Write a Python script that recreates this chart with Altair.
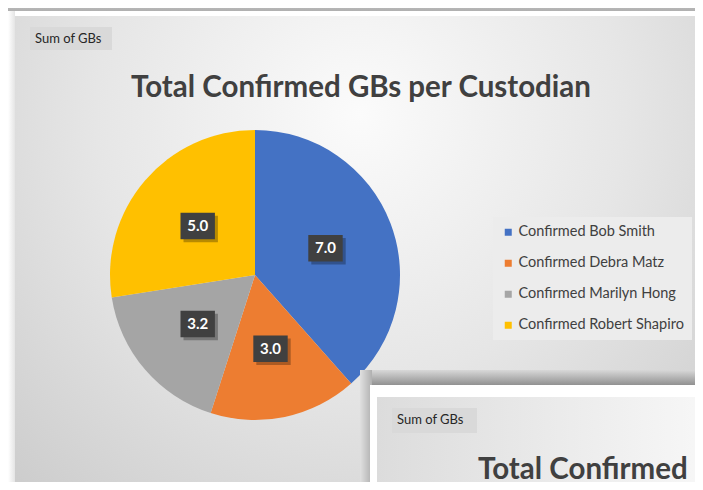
import math
import altair as alt
import pandas as pd

# ---- data ----
names = ["Confirmed Bob Smith", "Confirmed Debra Matz", "Confirmed Marilyn Hong", "Confirmed Robert Shapiro"]
values = [7.0, 3.0, 3.2, 5.0]
colors = ["#4472C4", "#ED7D31", "#A5A5A5", "#FFC000"]
title_text = "Total Confirmed GBs per Custodian"
field_button = "Sum of GBs"

df = pd.DataFrame({"name": names, "value": values})
total = sum(values)
cum = 0.0
lx, ly = [], []
for v in values:
    mid = (cum + v / 2) / total * 2 * math.pi
    cum += v
    lx.append(math.sin(mid) * 0.52)
    ly.append(-math.cos(mid) * 0.52)
df["lx"] = lx
df["ly"] = ly

one = pd.DataFrame({"a": [0]})
FONT = "Lato"

# pie geometry (chart coordinates = page - 8)
CX, CY, R = 247, 267, 145
W = 687


def rect(x, x2, y, y2, **kw):
    return alt.Chart(one).mark_rect(**kw).encode(
        x=alt.value(x), x2=alt.value(x2), y=alt.value(y), y2=alt.value(y2)
    )


def grad_linear(c1, c2, vertical=True):
    return alt.Gradient(
        gradient="linear",
        stops=[alt.GradientStop(color=c1, offset=0), alt.GradientStop(color=c2, offset=1)],
        x1=0, y1=0, x2=0 if vertical else 1, y2=1 if vertical else 0,
    )


# page furniture
top_shadow = rect(-10, W + 10, -10, 3, fill=grad_linear("#c8c8c8", "#b0b0b0"))
left_shadow = rect(0, 7, 3, 490, fill=grad_linear("#ffffff", "#e4e4e4", vertical=False))
panel = rect(
    7, W + 10, 8, 482,
    fill=alt.Gradient(
        gradient="radial",
        stops=[
            alt.GradientStop(color="#fbfbfb", offset=0),
            alt.GradientStop(color="#e6e6e6", offset=0.45),
            alt.GradientStop(color="#c4c4c4", offset=1),
        ],
        x1=0.5, y1=0.3, r1=0, x2=0.5, y2=0.3, r2=0.85,
    ),
)
btn1 = rect(22, 104, 19, 42, fill="#d9d9d9")
btn1_txt = alt.Chart(one).mark_text(
    text=field_button, font=FONT, fontSize=13, color="#262626", align="left", baseline="middle"
).encode(x=alt.value(27), y=alt.value(31))
title1 = alt.Chart(one).mark_text(
    text=title_text, font=FONT, fontSize=29.5, fontWeight="bold", color="#404040",
    align="center", baseline="middle",
).encode(x=alt.value(353), y=alt.value(80))

# pie
pie = alt.Chart(df).mark_arc(radius=R).encode(
    theta=alt.Theta("value:Q", stack=True),
    color=alt.Color(
        "name:N",
        scale=alt.Scale(domain=names, range=colors),
        legend=alt.Legend(
            orient="none", legendX=485, legendY=209, title=None,
            fillColor="#ececec", padding=8, symbolType="square", symbolSize=49,
            symbolStrokeWidth=0, labelFont=FONT, labelFontSize=14.5, labelColor="#404040",
            rowPadding=16, labelOffset=3, labelLimit=300,
        ),
    ),
    order=alt.Order("name:N"),
    x=alt.value(CX), y=alt.value(CY),
)

xs = alt.X("lx:Q", scale=alt.Scale(domain=[-1, 1], range=[CX - R, CX + R]), axis=None)
ys = alt.Y("ly:Q", scale=alt.Scale(domain=[-1, 1], range=[CY - R, CY + R]), axis=None)
BOX = "M-1.3,-1L1.3,-1L1.3,1L-1.3,1Z"
lab_shadow = alt.Chart(df).mark_point(
    shape=BOX, filled=True, size=700, color="#000000", opacity=0.28, xOffset=3, yOffset=3
).encode(x=xs, y=ys)
lab_box = alt.Chart(df).mark_point(
    shape=BOX, filled=True, size=700, color="#404040", opacity=1
).encode(x=xs, y=ys)
lab_txt = alt.Chart(df).mark_text(
    font=FONT, fontSize=15, fontWeight="bold", color="#ffffff", baseline="middle"
).encode(x=xs, y=ys, text=alt.Text("value:Q", format=".1f"))

# second (overlapping) chart in the lower right
sh2 = rect(352, W + 10, 362, 378, fill=grad_linear("#d8d8d8", "#8c8c8c"))
sh2l = rect(352, 364, 362, 490, fill=grad_linear("#e0e0e0", "#b0b0b0", vertical=False))
white2 = rect(362, W + 10, 377, 490, fill="#ffffff")
panel2 = rect(369, W + 10, 389, 490, fill=grad_linear("#dcdcdc", "#f7f7f7", vertical=False))
btn2 = rect(384, 469, 400, 425, fill="#d9d9d9")
btn2_txt = alt.Chart(one).mark_text(
    text=field_button, font=FONT, fontSize=13, color="#262626", align="left", baseline="middle"
).encode(x=alt.value(389), y=alt.value(412))
title2 = alt.Chart(one).mark_text(
    text=title_text, font=FONT, fontSize=29.5, fontWeight="bold", color="#404040",
    align="left", baseline="middle",
).encode(x=alt.value(470), y=alt.value(462))

chart = alt.layer(
    top_shadow, left_shadow, panel, btn1, btn1_txt, title1,
    pie, lab_shadow, lab_box, lab_txt,
    sh2, sh2l, white2, panel2, btn2, btn2_txt, title2,
).resolve_scale(x="independent", y="independent").properties(
    width=W, height=474, padding=0, autosize=alt.AutoSizeParams(type="none"),
    background="#ffffff",
).configure_view(stroke=None)

chart.save("out.html", embed_options={"renderer": "svg", "actions": False})
